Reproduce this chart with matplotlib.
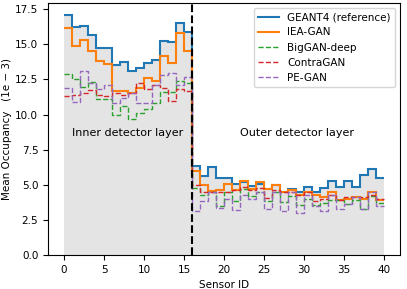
import matplotlib
matplotlib.use("Agg")
import matplotlib.pyplot as plt
import numpy as np

# sensor bins 0..39 (inner layer 0-15, outer layer 16-39)
edges = np.arange(41)

geant4 = [17.1, 16.25, 16.3, 15.7, 14.75, 14.75, 13.5, 13.75, 13.1, 13.3, 13.7, 13.9, 15.25, 15.2, 16.55, 15.9,
          6.3, 5.6, 6.25, 5.5, 5.5, 5.05, 5.2, 4.9, 5.05, 4.7, 4.95, 4.5, 4.7, 4.45, 4.85, 4.45,
          4.75, 5.3, 4.85, 5.3, 4.85, 5.7, 6.1, 5.45]
iea_gan = [16.2, 14.9, 15.3, 14.55, 13.8, 13.6, 11.7, 11.7, 11.55, 11.9, 12.6, 12.4, 14.2, 13.7, 15.8, 14.55,
           6.0, 5.0, 4.55, 4.6, 5.05, 4.6, 5.25, 4.7, 5.2, 4.7, 5.0, 4.45, 4.6, 4.3, 4.45, 4.3,
           4.1, 4.5, 3.9, 4.0, 4.1, 4.0, 4.5, 3.9]
biggan = [12.9, 12.55, 11.95, 12.3, 11.1, 11.1, 10.0, 10.6, 9.65, 10.1, 10.4, 10.8, 11.6, 11.6, 12.4, 12.25,
          4.8, 4.3, 4.5, 3.5, 4.5, 3.85, 4.7, 4.2, 4.5, 3.85, 4.5, 3.8, 4.2, 3.55, 4.0, 3.55,
          3.7, 3.9, 3.9, 3.6, 3.9, 3.3, 4.2, 3.7]
contragan = [11.3, 11.4, 11.55, 11.75, 11.4, 11.3, 11.55, 11.4, 11.5, 12.25, 11.8, 12.1, 11.9, 11.0, 11.8, 11.7,
             5.0, 4.5, 4.5, 4.5, 4.5, 4.6, 4.85, 4.6, 4.75, 4.05, 4.6, 4.45, 4.5, 4.25, 4.45, 3.85,
             4.0, 4.3, 3.9, 4.1, 4.1, 4.1, 4.3, 4.0]
pegan = [11.9, 10.9, 13.1, 12.25, 11.8, 12.1, 10.8, 11.2, 11.55, 10.8, 10.8, 12.1, 12.85, 12.95, 12.1, 12.7,
         3.1, 3.85, 4.5, 3.35, 4.0, 3.2, 4.25, 4.0, 4.5, 3.3, 4.5, 3.15, 4.5, 3.0, 4.25, 3.5,
         3.1, 4.3, 3.3, 3.6, 4.1, 3.3, 4.5, 3.5]

plt.rcParams['font.size'] = 7.5

fig = plt.figure(figsize=(4.07, 2.89), dpi=100)
ax = fig.add_axes([0.118, 0.118, 0.865, 0.872])

ax.stairs(geant4, edges, fill=True, facecolor='#d9d9d9', edgecolor='#cccccc', alpha=0.7)
ax.stairs(geant4, edges, baseline=None, color='tab:blue', linewidth=1.5, label='GEANT4 (reference)')
ax.stairs(iea_gan, edges, baseline=None, color='tab:orange', linewidth=1.5, label='IEA-GAN')
ax.stairs(biggan, edges, baseline=None, color='tab:green', linewidth=1.0, linestyle='--', label='BigGAN-deep')
ax.stairs(contragan, edges, baseline=None, color='tab:red', linewidth=1.0, linestyle='--', label='ContraGAN')
ax.stairs(pegan, edges, baseline=None, color='tab:purple', linewidth=1.0, linestyle='--', label='PE-GAN')

ax.axvline(16, color='black', linestyle='--', linewidth=1.5)

ax.text(1, 8.7, 'Inner detector layer', va='center', fontsize=8)
ax.text(22, 8.7, 'Outer detector layer', va='center', fontsize=8)

ax.set_xlabel('Sensor ID')
ax.set_ylabel('Mean Occupancy   (1e \u2212 3)', labelpad=2)
ax.set_yticks(np.arange(0, 17.6, 2.5))
ax.legend(loc='upper right', fontsize=7.5)

fig.savefig('out.png', dpi=100)
